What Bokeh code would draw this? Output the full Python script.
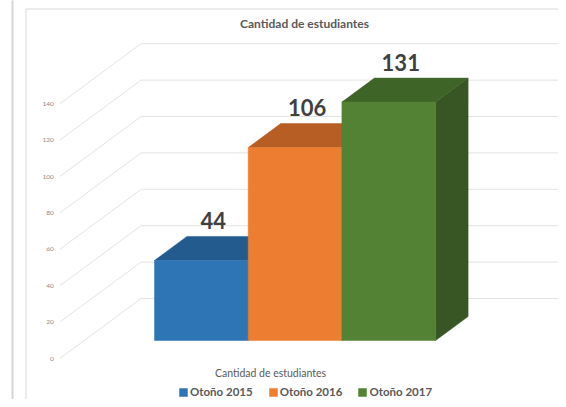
from bokeh.plotting import figure
from bokeh.models import ColumnDataSource, Range1d, Label, Legend, LegendItem
from bokeh.core.properties import value
from bokeh.embed import file_html
from bokeh.resources import INLINE

# ---- data ----
chart_title = "Cantidad de estudiantes"
axis_title = "Cantidad de estudiantes"
series_names = ["Otoño 2015", "Otoño 2016", "Otoño 2017"]
student_counts = [44, 106, 131]
tick_values = [0, 20, 40, 60, 80, 100, 120, 140]
tick_labels = ["0", "20", "40", "60", "80", "100", "120", "140"]

# ---- styles ----
front_colors = ["#2E75B6", "#ED7D31", "#548235"]
top_colors = ["#235B8E", "#B65E23", "#3E6428"]
side_colors = ["#1F4E79", "#A4531D", "#375623"]
FONT = "Lato"

# ---- geometry (pixel scale of the 3-D projection) ----
W, H = 558, 399
UX = 93.7      # px per category slot
K = 1.82       # px per student
X0 = 200.85    # figure px of category 0 centre
Y0 = 59.0      # figure px (from bottom) of value 0 on the bars' front plane
DX = 32.5 / UX  # depth vector per unit of depth (x, in category units)
DY = 24.0 / K   # depth vector per unit of depth (y, in value units)
Z_FLOOR_FRONT, Z_WALL = -0.75, 1.75
WALL_PAD = 0.75


def proj(x, v, z):
    return x + z * DX, v + z * DY


def PX(px):   # figure pixel (from left) -> data x (decoration only)
    return (px - X0) / UX


def PY(py):   # figure pixel (from top) -> data y (decoration only)
    return (H - py - Y0) / K


p = figure(width=W, height=H, output_backend="svg", toolbar_location=None,
           x_range=Range1d(-X0 / UX, (W - X0) / UX),
           y_range=Range1d(-Y0 / K, (H - Y0) / K),
           x_axis_location=None, y_axis_location=None,
           min_border=0, min_border_left=0, min_border_right=0,
           min_border_top=0, min_border_bottom=0)
p.grid.visible = False
p.outline_line_color = None
p.background_fill_color = "white"
p.border_fill_color = "white"

# page decorations
p.line([PX(12), PX(12)], [PY(-5), PY(420)], line_color="#d6d6d6", line_width=2)
p.line([PX(25.5), PX(25.5)], [PY(8.5), PY(420)], line_color="#d9d9d9", line_width=1)
p.line([PX(25.5), PX(580)], [PY(8.5), PY(8.5)], line_color="#d9d9d9", line_width=1)

# ---- walls / gridlines ----
n = len(student_counts)
wl = -0.5 - WALL_PAD
wr = n - 0.5 + WALL_PAD
gxs, gys, lx, ly = [], [], [], []
for t in tick_values:
    a = proj(wl, t, Z_FLOOR_FRONT)
    b = proj(wl, t, Z_WALL)
    c = proj(wr, t, Z_WALL)
    gxs.append([a[0], b[0], c[0]])
    gys.append([a[1], b[1], c[1]])
    lx.append(a[0] - 6.0 / UX)
    ly.append(a[1])
p.multi_line(gxs, gys, line_color="#e3e3e3", line_width=1)
p.text(lx, ly, text=tick_labels, text_align="right", text_baseline="middle",
       text_font=value(FONT), text_font_size="6.5px", text_color="#8a8a8a")

# ---- 3-D bars ----
legend_items = []
for i, v in enumerate(student_counts):
    x0, x1 = i - 0.5, i + 0.5
    side = [proj(x1, 0, 0), proj(x1, 0, 1), proj(x1, v, 1), proj(x1, v, 0)]
    top = [proj(x0, v, 0), proj(x1, v, 0), proj(x1, v, 1), proj(x0, v, 1)]
    front = [proj(x0, 0, 0), proj(x1, 0, 0), proj(x1, v, 0), proj(x0, v, 0)]
    faces = [side, top, front]
    src = ColumnDataSource(dict(
        xs=[[pt[0] for pt in f] for f in faces],
        ys=[[pt[1] for pt in f] for f in faces],
        color=[side_colors[i], top_colors[i], front_colors[i]],
    ))
    r = p.patches("xs", "ys", source=src, fill_color="color", line_color="color", line_width=0.5)
    legend_items.append(LegendItem(label=series_names[i], renderers=[r], index=2))

# data labels (above the back edge of each bar's top)
lab_x = [i + 12.0 / UX for i in range(n)]
lab_y = [v + DY + 16.0 / K for v in student_counts]
p.text(lab_x, lab_y, text=[str(v) for v in student_counts], text_align="center",
       text_baseline="alphabetic", text_font=value(FONT),
       text_font_style="bold", text_font_size="22px", text_color="#404040")

# titles
p.add_layout(Label(x=PX(304), y=PY(23), text=chart_title, text_align="center",
                   text_baseline="middle", text_font=FONT, text_font_style="bold",
                   text_font_size="12px", text_color="#595959"))
p.add_layout(Label(x=PX(270), y=PY(372), text=axis_title, text_align="center",
                   text_baseline="middle", text_font=FONT, text_font_size="10.5px",
                   text_color="#595959"))

legend = Legend(items=legend_items, orientation="horizontal", location=(178, 1),
                glyph_width=10, glyph_height=10, label_standoff=2, spacing=15,
                padding=0, margin=0, border_line_color=None, background_fill_alpha=0,
                label_text_font=FONT, label_text_font_style="bold",
                label_text_font_size="11.5px", label_text_color="#595959",
                label_height=10)
p.add_layout(legend)

open("out.html", "w").write(file_html(p, INLINE))
